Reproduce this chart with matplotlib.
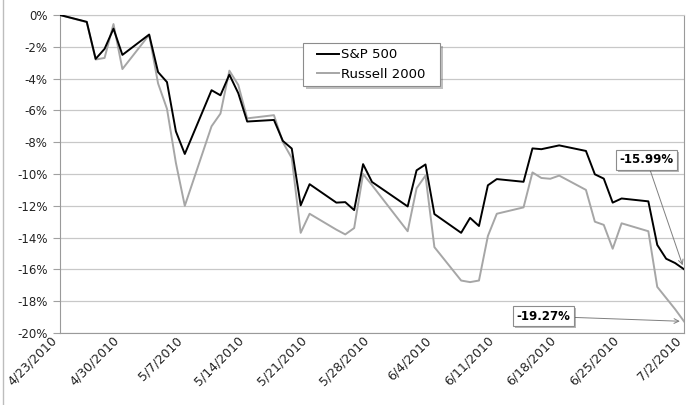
from datetime import datetime, timedelta

import matplotlib
matplotlib.use('Agg')
import matplotlib.pyplot as plt
import matplotlib.transforms as mtransforms
from matplotlib.lines import Line2D
from matplotlib.patches import Rectangle
from matplotlib import patheffects

# trading days, 2010
days = ['4/23', '4/26', '4/27', '4/28', '4/29', '4/30',
        '5/3', '5/4', '5/5', '5/6', '5/7',
        '5/10', '5/11', '5/12', '5/13', '5/14',
        '5/17', '5/18', '5/19', '5/20', '5/21',
        '5/24', '5/25', '5/26', '5/27', '5/28',
        '6/1', '6/2', '6/3', '6/4',
        '6/7', '6/8', '6/9', '6/10', '6/11',
        '6/14', '6/15', '6/16', '6/17', '6/18',
        '6/21', '6/22', '6/23', '6/24', '6/25',
        '6/28', '6/29', '6/30', '7/1', '7/2']

# cumulative change, %
sp500 = [0, -0.43, -2.76, -2.13, -0.86, -2.51,
         -1.23, -3.59, -4.22, -7.32, -8.74,
         -4.73, -5.05, -3.75, -4.92, -6.70,
         -6.60, -7.92, -8.40, -11.97, -10.64,
         -11.80, -11.77, -12.27, -9.38, -10.50,
         -12.04, -9.77, -9.40, -12.52,
         -13.70, -12.76, -13.27, -10.71, -10.32,
         -10.49, -8.39, -8.44, -8.32, -8.20,
         -8.55, -10.02, -10.29, -11.80, -11.54,
         -11.72, -14.46, -15.33, -15.60, -15.99]

russell = [0, -0.45, -2.8, -2.7, -0.57, -3.4,
           -1.25, -4.3, -5.9, -9.3, -12.0,
           -7.0, -6.2, -3.5, -4.4, -6.5,
           -6.3, -8.0, -9.0, -13.7, -12.5,
           -13.5, -13.8, -13.4, -10.0, -10.7,
           -13.6, -10.9, -10.1, -14.6,
           -16.7, -16.8, -16.7, -13.9, -12.5,
           -12.1, -9.9, -10.25, -10.3, -10.1,
           -11.0, -13.0, -13.2, -14.7, -13.1,
           -13.6, -17.1, -17.8, -18.5, -19.27]

tick_labels = ['4/23/2010', '4/30/2010', '5/7/2010', '5/14/2010', '5/21/2010',
               '5/28/2010', '6/4/2010', '6/11/2010', '6/18/2010', '6/25/2010',
               '7/2/2010']
y_ticks = list(range(0, -21, -2))


def to_date(s):
    return datetime.strptime(s + '/2010', '%m/%d/%Y')


dates = [to_date(d) for d in days]
tick_dates = [datetime.strptime(t, '%m/%d/%Y') for t in tick_labels]

fig = plt.figure(figsize=(6.86, 4.05), dpi=100)
ax = fig.add_axes([60 / 686, 1 - 333 / 405, 624 / 686, 318 / 405])

ax.plot(dates, russell, color='#a6a6a6', lw=1.4, label='Russell 2000', zorder=3)
ax.plot(dates, sp500, color='black', lw=1.4, label='S&P 500', zorder=4)

ax.set_xlim(dates[0], dates[-1])
ax.set_ylim(-20, 0)
ax.set_yticks(y_ticks)
ax.set_yticklabels(['%d%%' % v for v in y_ticks], fontsize=8.5, color='#222222')
ax.tick_params(axis='x', length=0, pad=4)
ax.tick_params(axis='y', length=5, color='#a0a0a0', pad=4)
ax.set_xticks(tick_dates)
ax.set_xticklabels(tick_labels, fontsize=9, rotation=45, ha='right',
                   va='center', rotation_mode='anchor', color='#222222')
# nudge the slanted dates left so the last one stays inside the picture
shift = mtransforms.ScaledTranslation(-5 / 100, 0, fig.dpi_scale_trans)
for lab in ax.get_xticklabels():
    lab.set_transform(lab.get_transform() + shift)
ax.grid(axis='y', color='#c8c8c8', lw=0.9)
ax.set_axisbelow(True)
for side in ['left', 'bottom', 'right']:
    ax.spines[side].set_color('#9a9a9a')
ax.spines['top'].set_color('#c8c8c8')

# legend box drawn by hand so the padding matches
shadow = [patheffects.SimplePatchShadow(offset=(2, -2), alpha=0.35), patheffects.Normal()]
frame = Rectangle((303 / 686, 1 - 86 / 405), 137 / 686, 43 / 405,
                  transform=fig.transFigure, fc='white', ec='#8c8c8c', lw=0.8,
                  zorder=5, clip_on=False)
frame.set_path_effects(shadow)
ax.add_patch(frame)
h, l = ax.get_legend_handles_labels()
leg = ax.legend(h[::-1], l[::-1], loc='center left',
                bbox_to_anchor=(317 / 686, 1 - 64.5 / 405),
                bbox_transform=fig.transFigure, borderaxespad=0, borderpad=0,
                fontsize=9.5, frameon=False, handlelength=1.7,
                handletextpad=0.15, labelspacing=0.5)
leg.set_zorder(6)

# call-outs for the final values
box = dict(boxstyle='square,pad=0.3', fc='white', ec='#8c8c8c', lw=0.8)
arrow = dict(arrowstyle='->', color='#7f7f7f', lw=0.7, shrinkA=0, shrinkB=3)
a1 = ax.annotate('%.2f%%' % sp500[-1], xy=(dates[-1], sp500[-1]),
                 xytext=(dates[0] + timedelta(days=65.8), -9.1),
                 ha='center', va='center', fontsize=8.5, fontweight='bold',
                 bbox=box, arrowprops=arrow, zorder=6)
a2 = ax.annotate('%.2f%%' % russell[-1], xy=(dates[-1], russell[-1]),
                 xytext=(dates[0] + timedelta(days=54.2), -18.95),
                 ha='center', va='center', fontsize=8.5, fontweight='bold',
                 bbox=box, arrowprops=arrow, zorder=6)
for a in (a1, a2):
    a.get_bbox_patch().set_path_effects(
        [patheffects.SimplePatchShadow(offset=(1.5, -1.5), alpha=0.4), patheffects.Normal()])

# chart frame edge on the left
fig.add_artist(Line2D([3 / 686, 3 / 686], [0, 1], transform=fig.transFigure,
                      color='#bdbdbd', lw=1))

fig.savefig('out.png', dpi=100)
